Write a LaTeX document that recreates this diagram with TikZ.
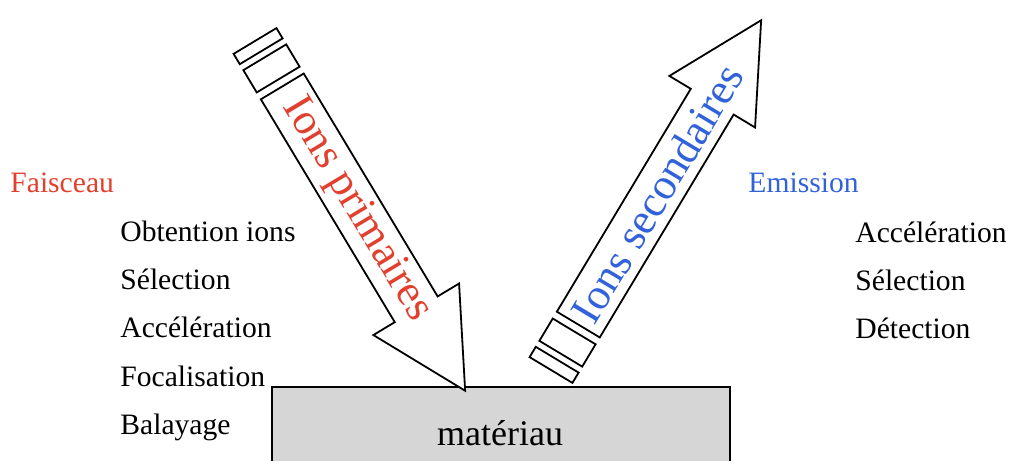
\documentclass[tikz,border=0pt]{standalone}
\usepackage{fontspec}
\setmainfont{Liberation Serif}
\usepackage{xcolor}
\usetikzlibrary{positioning}

\definecolor{beamred}{RGB}{226,64,46}
\definecolor{emitblue}{RGB}{50,98,218}

\begin{document}
\begin{tikzpicture}[x=0.5pt, y=0.5pt,
          steptext/.style={font=\fontsize{14.8}{18}\selectfont, anchor=base west, inner sep=0pt},
          ionbeam/.style={draw=black, line width=0.9pt, fill=white},
          ionlabel/.style={font=\fontsize{22}{26}\selectfont, inner sep=0pt},
          sample/.style={draw=black, line width=0.9pt, fill=black!16}
        ]
        \useasboundingbox (0,0) rectangle (1010,460);

        % Echantillon
        \draw[sample] (272,-4) rectangle (730,73);
        \node[font=\fontsize{18}{20}\selectfont, anchor=base, inner sep=0pt] (materiau) at (500,15) {matériau};

        % Faisceau primaire
        \begin{scope}[shift={(255,419)}, rotate=-59]
          \draw[ionbeam] (0,-25) rectangle (12,25);
          \draw[ionbeam] (19,-25) rectangle (45,25);
          \draw[ionbeam] (53,-25) -- (313,-25) -- (313,-50) -- (408,0) -- (313,50) -- (313,25) -- (53,25) -- cycle;
          \node[ionlabel, text=beamred, rotate=-59] (primaires) at (197,0) {Ions primaires};
        \end{scope}

        % Emission secondaire
        \begin{scope}[shift={(551,90)}, rotate=59]
          \draw[ionbeam] (0,-25) rectangle (12,25);
          \draw[ionbeam] (19,-25) rectangle (45,25);
          \draw[ionbeam] (53,-25) -- (313,-25) -- (313,-50) -- (408,0) -- (313,50) -- (313,25) -- (53,25) -- cycle;
          \node[ionlabel, text=emitblue, rotate=59] (secondaires) at (206,0) {Ions secondaires};
        \end{scope}

        % Etapes cote faisceau
        \node[steptext, text=beamred] (faisceau) at (10,267) {Faisceau};
        \node[steptext] (obtention) at (120,218) {Obtention ions};
        \node[steptext] (selection) at (120,170) {Sélection};
        \node[steptext] (acceleration) at (120,122) {Accélération};
        \node[steptext] (focalisation) at (120,74) {Focalisation};
        \node[steptext] (balayage) at (120,26) {Balayage};

        % Etapes cote emission
        \node[steptext, text=emitblue] (emission) at (748,267) {Emission};
        \node[steptext] (accel2) at (855,217) {Accélération};
        \node[steptext] (select2) at (855,169) {Sélection};
        \node[steptext] (detection) at (855,121) {Détection};

        \end{tikzpicture}
\end{document}
